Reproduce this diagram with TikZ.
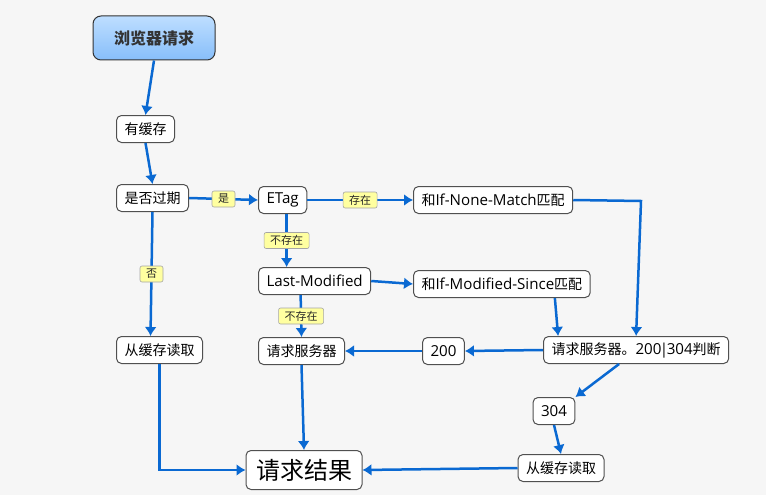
\documentclass[tikz,border=0pt]{standalone}
\usepackage{fontspec}
\setmainfont{Noto Sans CJK SC}
\newfontfamily\latin{Open Sans}[Scale=1.08]
\usepackage{tikz}
\usetikzlibrary{arrows.meta,arrows}
\usetikzlibrary{positioning}
\definecolor{LineBlue}{RGB}{10,105,210}
\definecolor{TagYellow}{RGB}{255,255,160}
\definecolor{BoxEdge}{RGB}{80,80,80}
\colorlet{PaperGray}{gray!7}
\definecolor{TitleTop}{RGB}{190,222,255}
\definecolor{TitleBottom}{RGB}{135,190,250}

\tikzset{
  stepbox/.style={draw=BoxEdge, line width=1pt, rounded corners=5pt, fill=white,
    inner xsep=8pt, inner ysep=2pt, minimum height=27pt,
    font=\fontsize{14}{14}\selectfont},
  tagbox/.style={draw=gray!70, line width=0.6pt, fill=TagYellow, rounded corners=2pt,
    inner xsep=6pt, inner ysep=1pt, minimum height=16pt, text=black!85,
    font=\fontsize{11}{11}\selectfont},
  flow/.style={arrows={-Latex[length=9pt, width=12pt]}, line width=2.5pt, LineBlue},
}

\begin{document}
\begin{tikzpicture}[x=1pt, y=-1pt]

% paper
\useasboundingbox (0,0) rectangle (766,495);
\fill[PaperGray] (0,0) rectangle (766,495);

% left edges of the three columns
\def \xONE   {116}
\def \xTWO   {258}
\def \xTHREE {413}

% rows
\def \yA {129}
\def \yB {198}
\def \yC {281}
\def \yD {350}

% title
\node[draw=black!80, line width=1pt, rounded corners=8pt,
      top color=TitleTop, bottom color=TitleBottom,
      minimum width=122pt, minimum height=44pt,
      text=black!80, font=\bfseries\fontsize{16}{16}\selectfont]
  (browser) at (154,38) {浏览器请求};

% first column
\node[stepbox, anchor=west] (cache)   at (\xONE, \yA) {有缓存};
\node[stepbox, anchor=west] (expired) at (\xONE, \yB) {是否过期};
\node[stepbox, anchor=west] (readA)   at (\xONE, \yD) {从缓存读取};

% second column
\node[stepbox, anchor=west] (etag)    at (\xTWO, \yB+2) {\latin ETag};
\node[stepbox, anchor=west] (lastmod) at (\xTWO, \yC) {\latin Last-Modified};
\node[stepbox, anchor=west] (askA)    at (\xTWO, \yD+1) {请求服务器};

% third column
\node[stepbox, anchor=west] (nonematch) at (\xTHREE, \yB+2) {和{\latin If-None-Match}匹配};
\node[stepbox, anchor=west] (modsince)  at (\xTHREE, \yC+3) {和{\latin If-Modified-Since}匹配};
\node[stepbox, anchor=west] (okay)      at (422, \yD+1) {\latin 200};

% server side
\node[stepbox, anchor=west] (judge)  at (543, \yD) {请求服务器。{\latin 200\kern-1.5pt|\kern-1.5pt304}判断};
\node[stepbox]              (notmod) at (554, 411) {\latin 304};
\node[stepbox]              (readB)  at (561, 468) {从缓存读取};

% result
\node[stepbox, inner xsep=10pt, minimum height=39pt,
      font=\fontsize{24}{24}\selectfont] (result) at (304,470) {请求结果};

% corner on the right
\coordinate (turn) at (641, \yB+3);

% links
\draw[flow] (browser.south) -- (cache.north);
\draw[flow] (cache.south) -- (expired.north);
\draw[flow] (expired.east) -- node[tagbox] {是} (etag.west);
\draw[flow] (expired.south) -- node[tagbox] {否} ([xshift=-9pt]readA.north);
\draw[flow] (etag.east) -- node[tagbox] {存在} (nonematch.west);
\draw[flow] ([xshift=4pt]etag.south) -- node[tagbox] {不存在} ([xshift=4pt]etag.south |- lastmod.north);
\draw[flow] (lastmod.east) -- (modsince.west);
\draw[flow] ([xshift=-14pt]lastmod.south) -- node[tagbox] {不存在} (askA.north);
\draw[flow] (nonematch.east) -- (turn) -- (judge.north);
\draw[flow] ([xshift=53pt]modsince.south) -- ([xshift=-78pt]judge.north);
\draw[flow] (judge.west) -- (okay.east);
\draw[flow] (okay.west) -- (askA.east);
\draw[flow] ([xshift=-17pt]judge.south) -- (notmod.north east);
\draw[flow] (notmod.south) -- (readB.north);
\draw[flow] (readB.west) -- (result.east);
\draw[flow] (readA.south) |- (result.west);
\draw[flow] (askA.south) -- (result.north);

\end{tikzpicture}
\end{document}
